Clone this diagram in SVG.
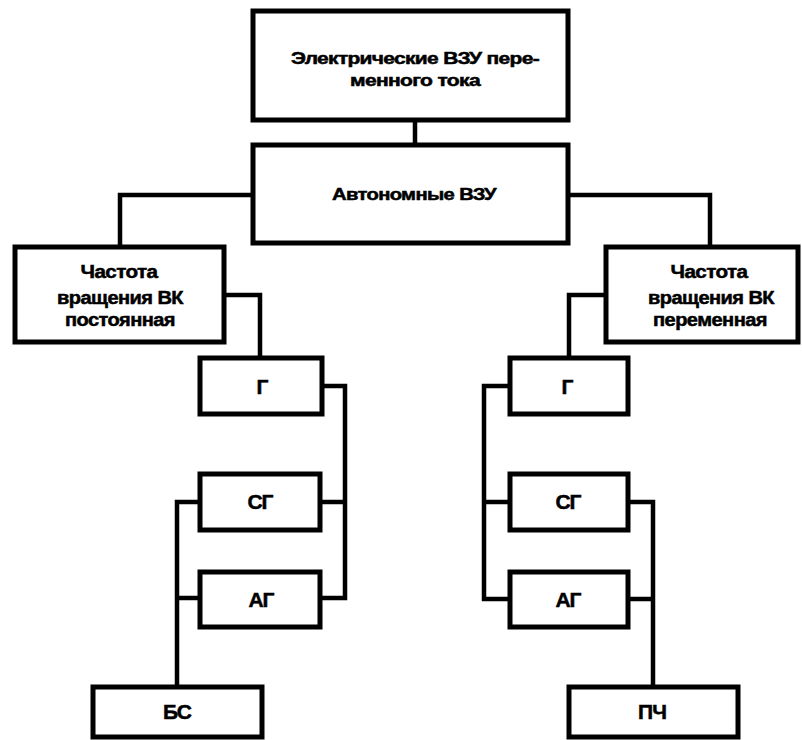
<svg xmlns="http://www.w3.org/2000/svg" width="802" height="740" viewBox="0 0 802 740">
<style>
.box{fill:#fff;stroke:#000;stroke-width:5}
.ln{fill:none;stroke:#000;stroke-width:4.5;stroke-linejoin:miter}
text{font-family:"Liberation Sans",Arial,sans-serif;font-weight:bold;font-size:18px;text-anchor:middle;fill:#000;stroke:#000;stroke-width:0.5;letter-spacing:-0.5px}
.big{font-size:16px}
.lbl{font-size:21px;letter-spacing:-1px}
</style>
<rect width="802" height="740" fill="#fff"/>
<g id="connectors">
<path class="ln" d="M415 120V145"/>
<path class="ln" d="M253 195H120V247"/>
<path class="ln" d="M568 195H710V247"/>
<path class="ln" d="M224 295H260V357"/>
<path class="ln" d="M606 295H569V357"/>
<path class="ln" d="M322 386H345V598H320"/>
<path class="ln" d="M345 502H320"/>
<path class="ln" d="M200 502H177V687"/>
<path class="ln" d="M200 598H177"/>
<path class="ln" d="M510 386H484V599H510"/>
<path class="ln" d="M484 502H510"/>
<path class="ln" d="M628 502H653V687"/>
<path class="ln" d="M628 599H653"/>
</g>
<g id="n-top"><rect class="box" x="253" y="11" width="315" height="109"/>
<text class="big" x="415" y="64" textLength="248" lengthAdjust="spacingAndGlyphs">Электрические ВЗУ пере-</text>
<text class="big" x="415" y="86" textLength="130" lengthAdjust="spacingAndGlyphs">менного тока</text></g>
<g id="n-auto"><rect class="box" x="253" y="145" width="315" height="98"/>
<text class="big" x="414" y="200" textLength="164" lengthAdjust="spacingAndGlyphs">Автономные ВЗУ</text></g>
<g id="n-const"><rect class="box" x="15" y="247" width="209" height="95"/>
<text x="119" y="278" textLength="77" lengthAdjust="spacingAndGlyphs">Частота</text>
<text x="120" y="304" textLength="126" lengthAdjust="spacingAndGlyphs">вращения ВК</text>
<text x="120" y="326" textLength="110" lengthAdjust="spacingAndGlyphs">постоянная</text></g>
<g id="n-var"><rect class="box" x="606" y="247" width="192" height="95"/>
<text x="709" y="278" textLength="77" lengthAdjust="spacingAndGlyphs">Частота</text>
<text x="711" y="304" textLength="126" lengthAdjust="spacingAndGlyphs">вращения ВК</text>
<text x="710" y="326" textLength="114" lengthAdjust="spacingAndGlyphs">переменная</text></g>
<g id="n-g1"><rect class="box" x="200" y="358" width="122" height="56"/>
<text class="lbl" x="262" y="394">Г</text></g>
<g id="n-sg1"><rect class="box" x="200" y="474" width="120" height="56"/>
<text class="lbl" x="260" y="509">СГ</text></g>
<g id="n-ag1"><rect class="box" x="200" y="572" width="120" height="55"/>
<text class="lbl" x="261" y="607">АГ</text></g>
<g id="n-bs"><rect class="box" x="93" y="687" width="169" height="50"/>
<text class="lbl" x="177" y="719">БС</text></g>
<g id="n-g2"><rect class="box" x="510" y="358" width="118" height="56"/>
<text class="lbl" x="567" y="394">Г</text></g>
<g id="n-sg2"><rect class="box" x="510" y="474" width="118" height="56"/>
<text class="lbl" x="568" y="509">СГ</text></g>
<g id="n-ag2"><rect class="box" x="510" y="572" width="118" height="55"/>
<text class="lbl" x="568" y="607">АГ</text></g>
<g id="n-pch"><rect class="box" x="569" y="687" width="169" height="50"/>
<text class="lbl" x="652" y="719">ПЧ</text></g>
</svg>
